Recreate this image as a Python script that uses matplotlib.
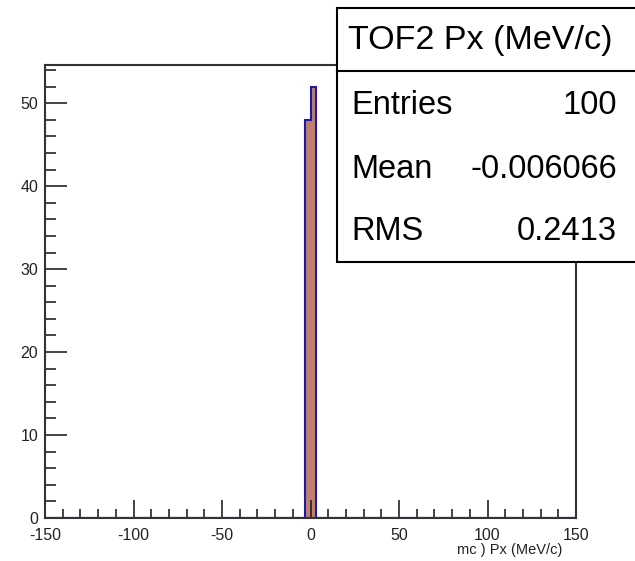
import matplotlib
matplotlib.use("Agg")
import matplotlib.pyplot as plt
from matplotlib.patches import Rectangle
from matplotlib.lines import Line2D
from matplotlib.ticker import MultipleLocator

plt.rcParams['font.family'] = ['Liberation Sans', 'DejaVu Sans']
plt.rcParams['axes.unicode_minus'] = False

# Histogram data (bin centres with non-zero content, and their counts)
bin_centers = [-1.5, 1.5]
counts = [48, 52]
n_bins = 100
x_range = (-150, 150)

stat_title = "TOF2 Px (MeV/c)"
stat_names = ["Entries", "Mean", "RMS"]
stat_values = ["100", "-0.006066", "0.2413"]
x_label = "mc ) Px (MeV/c)"

W, H = 635, 561
fig = plt.figure(figsize=(W / 100, H / 100), dpi=100)
fig.patch.set_facecolor('white')

def fx(px):
    return px / W

def fy(py):
    return 1 - py / H

ax_l, ax_r, ax_t, ax_b = 45, 576, 65, 518
ax = fig.add_axes([fx(ax_l), fy(ax_b), fx(ax_r) - fx(ax_l), fy(ax_t) - fy(ax_b)])

ax.hist(bin_centers, bins=n_bins, range=x_range, weights=counts,
        histtype='stepfilled', facecolor='#c0806f', edgecolor='#1c1ca0', linewidth=1.5)

ax.set_xlim(*x_range)
ax.set_ylim(0, max(counts) * 1.05)

ax.xaxis.set_major_locator(MultipleLocator(50))
ax.xaxis.set_minor_locator(MultipleLocator(10))
ax.yaxis.set_major_locator(MultipleLocator(10))
ax.yaxis.set_minor_locator(MultipleLocator(2))

ax.tick_params(which='both', direction='in', top=False, right=False, colors='#222222',
               labelsize=11.5, width=1.2)
ax.tick_params(axis='y', which='major', length=16, pad=5)
ax.tick_params(axis='y', which='minor', length=8)
ax.tick_params(axis='x', which='major', length=13, pad=7)
ax.tick_params(axis='x', which='minor', length=6.5)
for s in ax.spines.values():
    s.set_linewidth(1.5)
    s.set_color('#333333')

fig.text(fx(562), fy(550), x_label, ha='right', va='center', fontsize=10.5, color='#222222')

# Stats box
bx0, bx1, by0, by1 = 337, 640, 8, 262
fig.patches.append(Rectangle((fx(bx0), fy(by1)), fx(bx1) - fx(bx0), fy(by0) - fy(by1),
                             transform=fig.transFigure, facecolor='white',
                             edgecolor='black', linewidth=1.5, zorder=5))
fig.lines.append(Line2D([fx(bx0), fx(bx1)], [fy(71), fy(71)], transform=fig.transFigure,
                        color='black', linewidth=1.5, zorder=6))
fig.text(fx(480), fy(41), stat_title, ha='center', va='center', fontsize=24.6, zorder=7)
row_y = [106, 169, 231]
for name, val, ry in zip(stat_names, stat_values, row_y):
    fig.text(fx(351), fy(ry), name, ha='left', va='center', fontsize=23.5, zorder=7)
    fig.text(fx(617), fy(ry), val, ha='right', va='center', fontsize=23.5, zorder=7)

fig.savefig("out.png", dpi=100)
